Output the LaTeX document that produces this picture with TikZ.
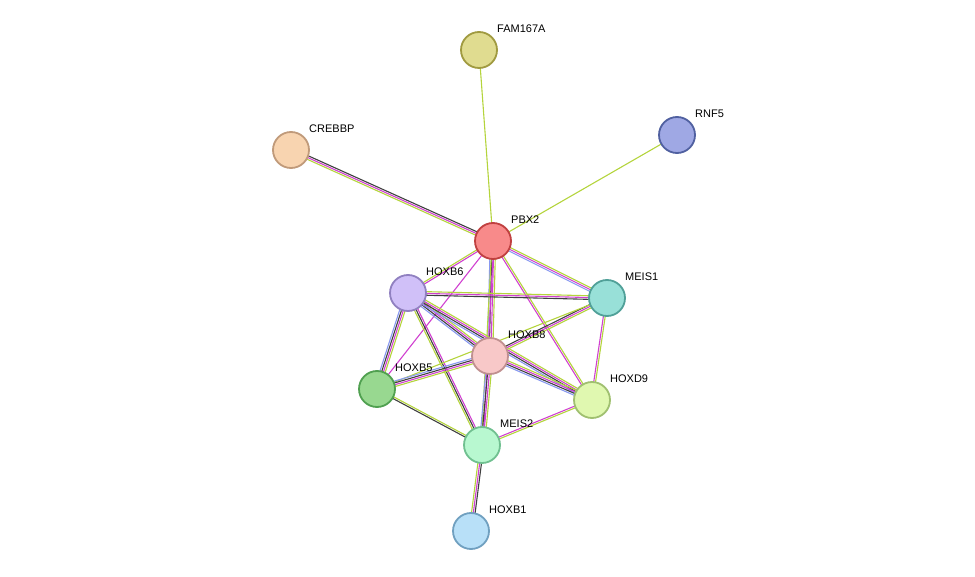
\documentclass[tikz,border=0pt]{standalone}
\usepackage{fontspec}
\setmainfont{Liberation Sans}
\usetikzlibrary{calc}
\definecolor{Y}{HTML}{B4D43C}
\definecolor{K}{HTML}{404040}
\definecolor{M}{HTML}{D040D0}
\definecolor{B}{HTML}{8898F0}
\tikzset{prot/.style={circle,minimum size=36pt,inner sep=0pt,line width=1.8pt},
lab/.style={anchor=south west,inner sep=0pt,font=\fontsize{11}{13}\selectfont}}
\newcommand\edg[4]{%
\foreach \cc [count=\ii] in {#4}{%
\pgfmathsetmacro\oo{(\ii-(#3+1)/2)*1.8}%
\draw[\cc,line width=1.1pt] ($(#1)!\oo pt!90:(#2)$) -- ($(#2)!\oo pt!-90:(#1)$);}}
\begin{document}
\begin{tikzpicture}[x=1pt,y=-1pt]
\useasboundingbox (0,0) rectangle (975,577);
\coordinate (fam) at (479,50);
\coordinate (rnf) at (677,135);
\coordinate (cre) at (291,150);
\coordinate (pbx) at (493,241);
\coordinate (b6) at (408,293);
\coordinate (me1) at (607,298);
\coordinate (b8) at (490,356);
\coordinate (b5) at (377,389);
\coordinate (d9) at (592,400);
\coordinate (me2) at (482,445);
\coordinate (b1) at (471,531);
\edg{fam}{pbx}{1}{Y}
\edg{rnf}{pbx}{1}{Y}
\edg{cre}{pbx}{3}{Y,M,K}
\edg{pbx}{me1}{3}{B,M,Y}
\edg{pbx}{b6}{2}{Y,M}
\edg{pbx}{b8}{4}{B,K,M,Y}
\edg{pbx}{b5}{1}{M}
\edg{pbx}{me2}{2}{Y,M}
\edg{pbx}{d9}{2}{M,Y}
\edg{b6}{me1}{3}{K,M,Y}
\edg{b6}{b8}{4}{B,K,M,Y}
\edg{b6}{d9}{4}{B,K,M,Y}
\edg{b6}{b5}{4}{B,K,M,Y}
\edg{b6}{me2}{3}{Y,K,M}
\edg{me1}{b8}{3}{K,M,Y}
\edg{me1}{b5}{1}{Y}
\edg{me1}{d9}{2}{M,Y}
\edg{b8}{b5}{4}{B,K,M,Y}
\edg{b8}{d9}{4}{B,K,M,Y}
\edg{b8}{me2}{4}{B,K,M,Y}
\edg{b5}{me2}{2}{K,Y}
\edg{d9}{me2}{2}{M,Y}
\edg{me2}{b1}{3}{Y,M,K}
\node[prot,fill={rgb,255:red,224;green,220;blue,144},draw={rgb,255:red,160;green,154;blue,64}] (nfam) at (fam) {};
\node[prot,fill={rgb,255:red,159;green,168;blue,228},draw={rgb,255:red,80;green,96;blue,160}] (nrnf) at (rnf) {};
\node[prot,fill={rgb,255:red,248;green,212;blue,176},draw={rgb,255:red,192;green,154;blue,122}] (ncre) at (cre) {};
\node[prot,fill={rgb,255:red,248;green,138;blue,138},draw={rgb,255:red,192;green,64;blue,64}] (npbx) at (pbx) {};
\node[prot,fill={rgb,255:red,208;green,192;blue,248},draw={rgb,255:red,144;green,128;blue,192}] (nb6) at (b6) {};
\node[prot,fill={rgb,255:red,152;green,224;blue,216},draw={rgb,255:red,80;green,160;blue,152}] (nme1) at (me1) {};
\node[prot,fill={rgb,255:red,248;green,200;blue,200},draw={rgb,255:red,192;green,144;blue,144}] (nb8) at (b8) {};
\node[prot,fill={rgb,255:red,152;green,216;blue,144},draw={rgb,255:red,80;green,160;blue,80}] (nb5) at (b5) {};
\node[prot,fill={rgb,255:red,224;green,248;blue,176},draw={rgb,255:red,160;green,192;blue,112}] (nd9) at (d9) {};
\node[prot,fill={rgb,255:red,184;green,248;blue,208},draw={rgb,255:red,112;green,192;blue,144}] (nme2) at (me2) {};
\node[prot,fill={rgb,255:red,184;green,224;blue,248},draw={rgb,255:red,112;green,160;blue,192}] (nb1) at (b1) {};
\node[lab] (lfam) at ($(fam)+(18,-17)$) {FAM167A};
\node[lab] (lrnf) at ($(rnf)+(18,-17)$) {RNF5};
\node[lab] (lcre) at ($(cre)+(18,-17)$) {CREBBP};
\node[lab] (lpbx) at ($(pbx)+(18,-17)$) {PBX2};
\node[lab] (lb6) at ($(b6)+(18,-17)$) {HOXB6};
\node[lab] (lme1) at ($(me1)+(18,-17)$) {MEIS1};
\node[lab] (lb8) at ($(b8)+(18,-17)$) {HOXB8};
\node[lab] (lb5) at ($(b5)+(18,-17)$) {HOXB5};
\node[lab] (ld9) at ($(d9)+(18,-17)$) {HOXD9};
\node[lab] (lme2) at ($(me2)+(18,-17)$) {MEIS2};
\node[lab] (lb1) at ($(b1)+(18,-17)$) {HOXB1};
\end{tikzpicture}
\end{document}
